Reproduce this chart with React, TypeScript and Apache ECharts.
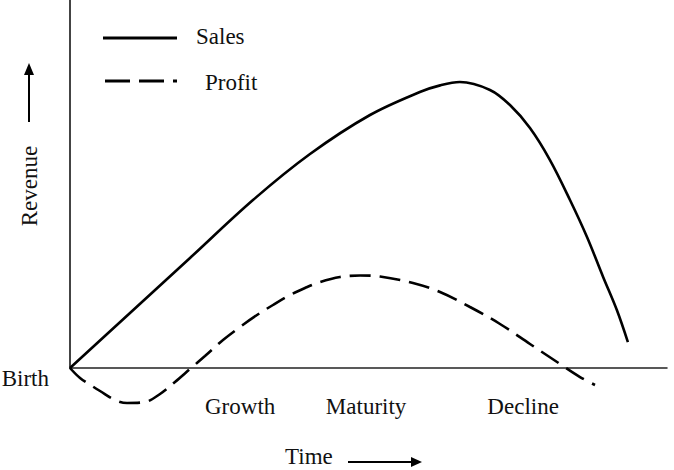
import React, { useEffect, useRef } from "react";
import * as echarts from "echarts";

// Product life cycle curves, in axis units (x: 0..100 time, y: 0..100 revenue)
const salesData: [number, number][] = [
  [0, 0], [10.05, 14.95], [20.1, 29.9], [30.65, 45.65], [40.2, 58.15],
  [50.25, 68.75], [58.6, 75.0], [62.0, 76.8], [65.3, 77.7], [70.35, 75.55],
  [73.7, 71.45], [77.05, 65.2], [80.4, 56.5], [83.75, 45.65], [86.6, 35.6],
  [89.3, 24.75], [91.6, 15.75], [93.45, 7.05],
];
const profitData: [number, number][] = [
  [0, 0], [1.68, -2.72], [3.69, -4.89], [5.03, -6.25], [7.54, -8.7], [9.55, -9.51],
  [12.56, -9.24], [15.08, -7.07], [17.59, -3.8], [20.1, -0.27], [22.61, 3.26],
  [25.63, 7.61], [28.48, 11.14], [31.32, 14.4], [34.0, 17.12], [36.85, 19.84],
  [39.36, 21.74], [41.88, 23.37], [45.23, 24.73], [48.58, 25.14], [51.93, 24.86],
  [57.45, 23.1], [61.98, 20.65], [67.0, 16.58], [72.03, 11.96], [77.05, 6.52],
  [82.08, 1.09], [85.43, -2.45], [87.94, -4.62],
];
const stageLabels = ["Growth", "Maturity", "Decline"];
const stageValues = [28.5, 49.6, 75.9];
const originLabel = "Birth";
const seriesNames = ["Sales", "Profit"];
const xTitle = "Time";
const yTitle = "Revenue";

const FONT = "'Times New Roman', 'Liberation Serif', serif";
const INK = "#111";

export default function App() {
  const ref = useRef<HTMLDivElement>(null);
  useEffect(() => {
    document.body.style.margin = "0";
    if (!ref.current) return;
    const chart = echarts.init(ref.current, undefined, { renderer: "svg" });
    const textStyle = (text: string, extra: any = {}) => ({
      text,
      fill: INK,
      font: `23px ${FONT}`,
      ...extra,
    });
    chart.setOption({
      animation: false,
      backgroundColor: "#fff",
      grid: { left: 70, right: 7, top: 0, bottom: 102 },
      xAxis: {
        type: "value",
        min: 0,
        max: 100,
        axisLine: { show: true, lineStyle: { color: "#222", width: 1.5 } },
        axisTick: { show: false },
        splitLine: { show: false },
        axisLabel: {
          show: true,
          customValues: stageValues,
          margin: 27,
          color: INK,
          fontSize: 23,
          fontFamily: FONT,
          formatter: (v: number) => {
            const i = stageValues.findIndex((s) => Math.abs(s - v) < 1e-6);
            return i >= 0 ? stageLabels[i] : "";
          },
        },
      },
      yAxis: {
        type: "value",
        min: 0,
        max: 100,
        axisLine: { show: true, lineStyle: { color: "#444", width: 2 } },
        axisTick: { show: false },
        splitLine: { show: false },
        axisLabel: { show: false },
      },
      series: [
        {
          name: seriesNames[0],
          type: "line",
          data: salesData,
          smooth: 0.35,
          symbol: "none",
          clip: false,
          lineStyle: { color: "#000", width: 2.6 },
        },
        {
          name: seriesNames[1],
          type: "line",
          data: profitData,
          smooth: 0.35,
          symbol: "none",
          clip: false,
          lineStyle: { color: "#000", width: 2.6, type: [21, 9] },
        },
      ],
      graphic: [
        // legend
        { type: "line", shape: { x1: 103, y1: 38, x2: 177, y2: 38 }, style: { stroke: "#000", lineWidth: 3 } },
        { type: "text", x: 196, y: 36, style: textStyle(seriesNames[0], { verticalAlign: "middle" }) },
        { type: "line", shape: { x1: 105, y1: 81, x2: 177, y2: 81 }, style: { stroke: "#000", lineWidth: 3, lineDash: [25, 9] } },
        { type: "text", x: 205, y: 82, style: textStyle(seriesNames[1], { verticalAlign: "middle" }) },
        // origin label
        { type: "text", x: 49, y: 378, style: textStyle(originLabel, { align: "right", verticalAlign: "middle" }) },
        // x title + arrow
        { type: "text", x: 285, y: 456, style: textStyle(xTitle, { verticalAlign: "middle" }) },
        { type: "line", shape: { x1: 348, y1: 462, x2: 413, y2: 462 }, style: { stroke: "#000", lineWidth: 2 } },
        { type: "polygon", shape: { points: [[422, 462], [411, 457], [411, 467]] }, style: { fill: "#000" } },
        // y title + arrow
        { type: "text", x: 29, y: 186, rotation: Math.PI / 2, style: textStyle(yTitle, { align: "center", verticalAlign: "middle" }) },
        { type: "line", shape: { x1: 29, y1: 122, x2: 29, y2: 72 }, style: { stroke: "#000", lineWidth: 2 } },
        { type: "polygon", shape: { points: [[29, 63], [24, 75], [34, 75]] }, style: { fill: "#000" } },
      ],
    });
    return () => chart.dispose();
  }, []);
  return (
    <div
      ref={ref}
      style={{ position: "fixed", left: 0, top: 0, width: 674, height: 470, background: "#fff" }}
    />
  );
}
